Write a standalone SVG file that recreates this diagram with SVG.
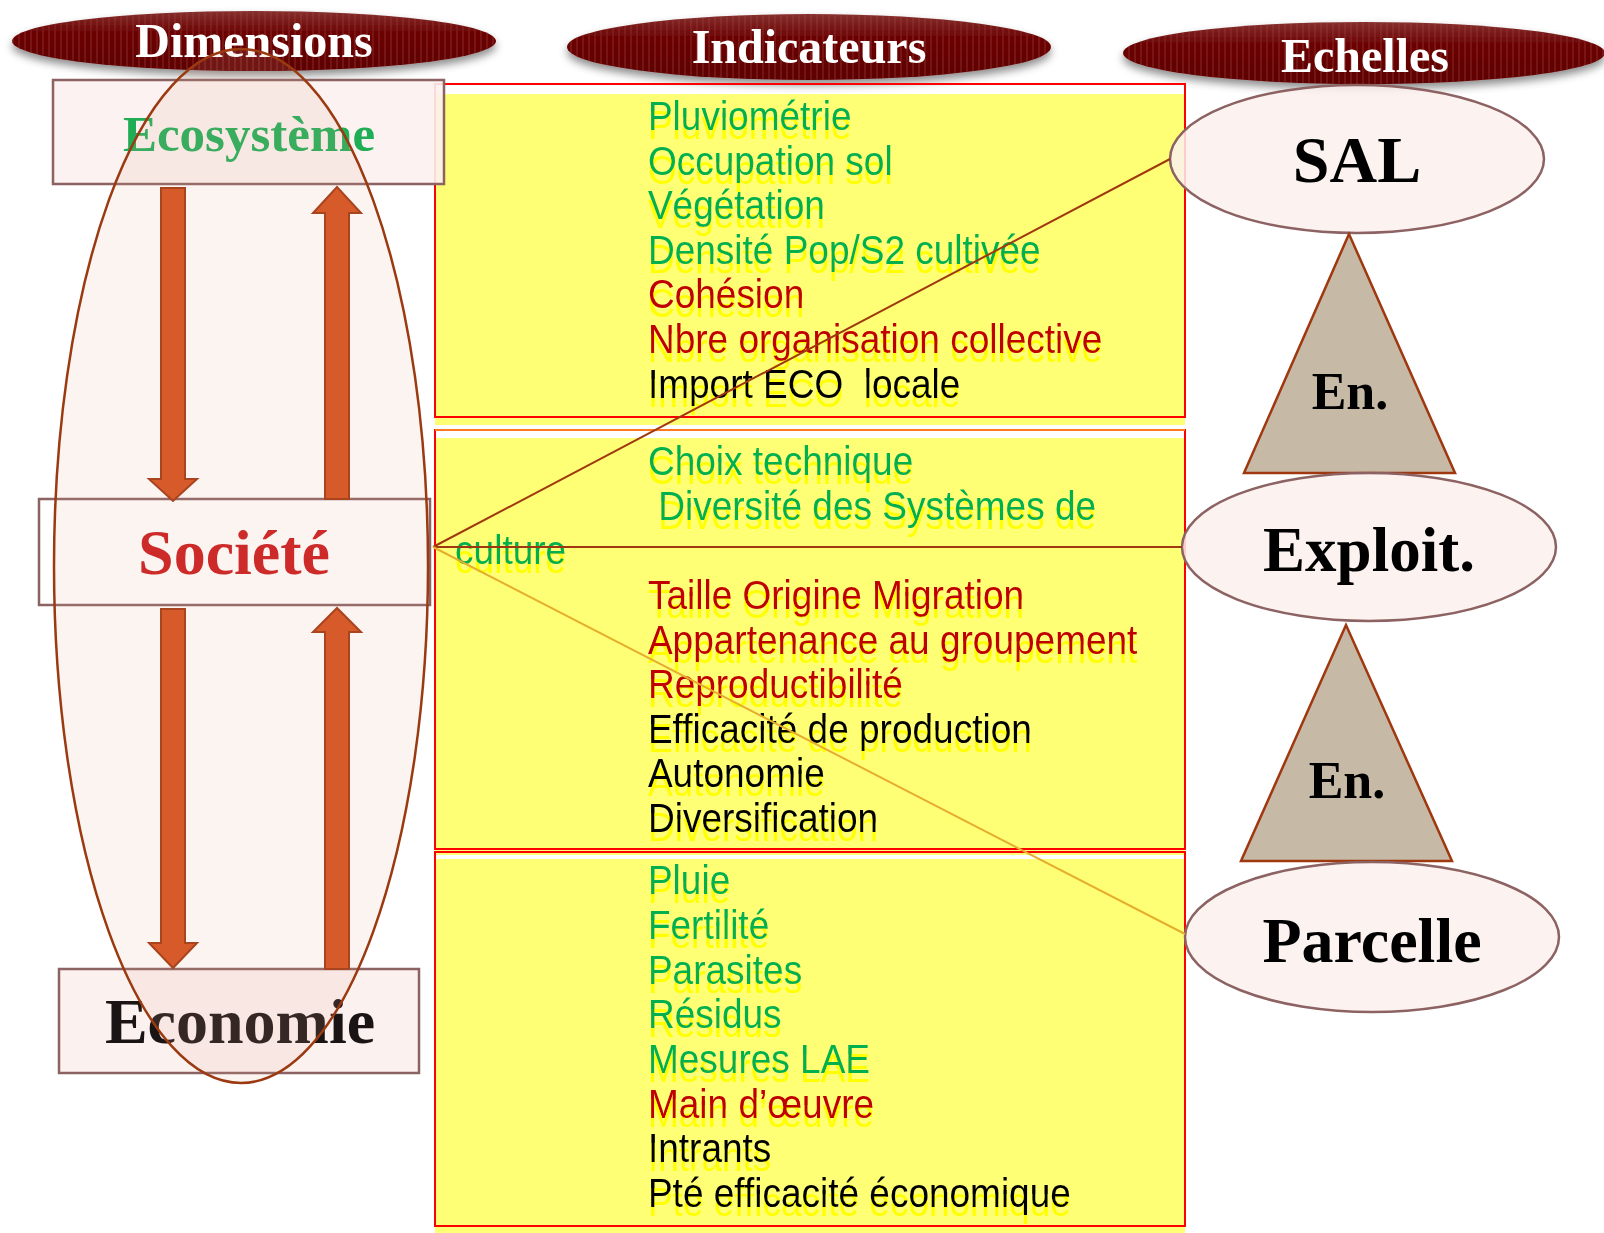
<svg xmlns="http://www.w3.org/2000/svg" width="1604" height="1233" viewBox="0 0 1604 1233">
<defs>
<linearGradient id="hdrGrad" x1="0" y1="0" x2="0" y2="1">
<stop offset="0" stop-color="#86302e"/>
<stop offset="0.35" stop-color="#6c0404"/>
<stop offset="1" stop-color="#5e0000"/>
</linearGradient>
<pattern id="stripes" width="6" height="10" patternUnits="userSpaceOnUse">
<rect x="0" y="0" width="2" height="10" fill="#a85050" opacity="0.22"/>
</pattern>
<filter id="hdrShadow" x="-10%" y="-30%" width="120%" height="180%">
<feGaussianBlur in="SourceAlpha" stdDeviation="4"/>
<feOffset dx="0" dy="5" result="b"/>
<feFlood flood-color="#000" flood-opacity="0.45"/>
<feComposite in2="b" operator="in" result="s"/>
<feMerge><feMergeNode in="s"/><feMergeNode in="SourceGraphic"/></feMerge>
</filter>
<filter id="reflect" x="-5%" y="-20%" width="110%" height="160%">
<feDropShadow dx="0" dy="9" stdDeviation="0" flood-color="#ffff00" flood-opacity="1"/>
</filter>
</defs>
<style>
.hdr{font-family:"Liberation Serif","Times New Roman",serif;font-weight:bold;font-size:48px;fill:#fff;text-anchor:middle}
.node{font-family:"Liberation Serif","Times New Roman",serif;font-weight:bold;text-anchor:middle}
.ind{font-family:"Liberation Sans",Arial,sans-serif;font-size:40px}
.g{fill:#00b050}.r{fill:#c00000}.k{fill:#000}
.panel{fill:#ffff75}
.pborder{fill:none;stroke:#ff0000;stroke-width:2}
.dimrect{stroke:#8c6262;stroke-width:2.5}
.scale{fill:#fbf1ef;fill-opacity:0.85;stroke:#8c6262;stroke-width:2.5}
.tri{fill:#c6b9a6;stroke:#a0380f;stroke-width:2.5}
.barrow{fill:#d65a2a;stroke:#a8441e;stroke-width:2}
</style>
<rect width="1604" height="1233" fill="#fff"/>

<g id="headers">
<g id="hdr-dimensions" filter="url(#hdrShadow)">
<ellipse cx="254" cy="41" rx="242" ry="30" fill="url(#hdrGrad)"/>
<ellipse cx="254" cy="41" rx="242" ry="30" fill="url(#stripes)"/>
<text class="hdr" x="254" y="57">Dimensions</text>
</g>
<g id="hdr-indicateurs" filter="url(#hdrShadow)">
<ellipse cx="809" cy="47" rx="242" ry="33" fill="url(#hdrGrad)"/>
<ellipse cx="809" cy="47" rx="242" ry="33" fill="url(#stripes)"/>
<text class="hdr" x="809" y="63">Indicateurs</text>
</g>
<g id="hdr-echelles" filter="url(#hdrShadow)">
<ellipse cx="1364" cy="53" rx="241" ry="31" fill="url(#hdrGrad)"/>
<ellipse cx="1364" cy="53" rx="241" ry="31" fill="url(#stripes)"/>
<text class="hdr" x="1365" y="72">Echelles</text>
</g>
</g>

<g id="panel-1">
<rect class="panel" x="435" y="94" width="750" height="331"/>
<rect class="pborder" x="435" y="84" width="750" height="333"/>
<g class="ind" filter="url(#reflect)" transform="scale(0.925,1)">
<text class="g" x="700.5" y="130">Pluviométrie</text>
<text class="g" x="700.5" y="175">Occupation sol</text>
<text class="g" x="700.5" y="219">Végétation</text>
<text class="g" x="700.5" y="264">Densité Pop/S2 cultivée</text>
<text class="r" x="700.5" y="308">Cohésion</text>
<text class="r" x="700.5" y="353">Nbre organisation collective</text>
<text class="k" x="700.5" y="398" xml:space="preserve">Import ECO  locale</text>
</g>
</g>

<g id="panel-2">
<rect class="panel" x="435" y="438" width="750" height="417"/>
<rect class="pborder" x="435" y="430" width="750" height="419"/>
<line x1="435" y1="430" x2="1185" y2="430" stroke="#ff7a20" stroke-width="2"/>
<g class="ind" filter="url(#reflect)" transform="scale(0.925,1)">
<text class="g" x="700.5" y="475">Choix technique</text>
<text class="g" x="700.5" y="520" xml:space="preserve"> Diversité des Systèmes de</text>
<text class="g" x="492" y="564">culture</text>
<text class="r" x="700.5" y="609">Taille Origine Migration</text>
<text class="r" x="700.5" y="654">Appartenance au groupement</text>
<text class="r" x="700.5" y="698">Reproductibilité</text>
<text class="k" x="700.5" y="743">Efficacité de production</text>
<text class="k" x="700.5" y="787">Autonomie</text>
<text class="k" x="700.5" y="832">Diversification</text>
</g>
</g>

<g id="panel-3">
<rect class="panel" x="435" y="859" width="750" height="374"/>
<rect class="pborder" x="435" y="852" width="750" height="374"/>
<g class="ind" filter="url(#reflect)" transform="scale(0.925,1)">
<text class="g" x="700.5" y="894">Pluie</text>
<text class="g" x="700.5" y="939">Fertilité</text>
<text class="g" x="700.5" y="984">Parasites</text>
<text class="g" x="700.5" y="1028">Résidus</text>
<text class="g" x="700.5" y="1073">Mesures LAE</text>
<text class="r" x="700.5" y="1118">Main d’œuvre</text>
<text class="k" x="700.5" y="1162">Intrants</text>
<text class="k" x="700.5" y="1207">Pté efficacité économique</text>
</g>
</g>

<g id="node-ecosysteme">
<rect class="dimrect" x="53" y="80" width="391" height="104" fill="#fbf1ef" fill-opacity="0.9"/>
<text class="node" x="249" y="151" font-size="51" fill="#1fae55">Ecosystème</text>
</g>
<g id="node-societe">
<rect class="dimrect" x="39" y="499" width="391" height="106" fill="#fff"/>
<text class="node" x="234" y="574" font-size="64" fill="#c8191a">Société</text>
</g>
<g id="node-economie">
<rect class="dimrect" x="59" y="969" width="360" height="104" fill="#fbf1ef"/>
<text class="node" x="240" y="1043" font-size="64" fill="#1a1414">Economie</text>
</g>
<g id="node-dimensions-ellipse">
<ellipse cx="241" cy="566" rx="187" ry="517" fill="#e8a890" fill-opacity="0.13" stroke="#9b3a10" stroke-width="2.5"/>
</g>

<g id="node-sal">
<ellipse class="scale" cx="1357" cy="159" rx="187" ry="74"/>
<text class="node" x="1357" y="182" font-size="66" fill="#000">SAL</text>
</g>
<g id="node-en-1">
<polygon class="tri" points="1349,234 1244,473 1455,473"/>
<text class="node" x="1350" y="409" font-size="52" fill="#000">En.</text>
</g>
<g id="node-exploit">
<ellipse class="scale" cx="1369" cy="547" rx="187" ry="74"/>
<text class="node" x="1369" y="571" font-size="63" fill="#000">Exploit.</text>
</g>
<g id="node-en-2">
<polygon class="tri" points="1346,625 1241,861 1452,861"/>
<text class="node" x="1347" y="798" font-size="52" fill="#000">En.</text>
</g>
<g id="node-parcelle">
<ellipse class="scale" cx="1372" cy="937" rx="187" ry="75"/>
<text class="node" x="1372" y="962" font-size="64" fill="#000">Parcelle</text>
</g>

<g id="connectors">
<polygon class="barrow" points="161,188 185,188 185,479 197,479 173,501 149,479 161,479"/>
<polygon class="barrow" points="325,499 349,499 349,213 361,213 337,187 313,213 325,213"/>
<polygon class="barrow" points="161,609 185,609 185,943 197,943 173,968 149,943 161,943"/>
<polygon class="barrow" points="325,969 349,969 349,632 361,632 337,608 313,632 325,632"/>
<line x1="433" y1="547" x2="1170" y2="159" stroke="#a0380f" stroke-width="2"/>
<line x1="433" y1="547" x2="1182" y2="547" stroke="#a0380f" stroke-width="2"/>
<line x1="433" y1="547" x2="1185" y2="934" stroke="#e6ad2e" stroke-width="2"/>
</g>
</svg>
